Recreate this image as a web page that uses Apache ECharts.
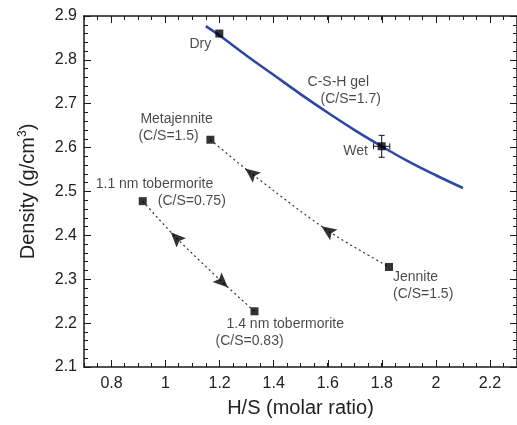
<!DOCTYPE html>
<html>
<head>
<meta charset="utf-8">
<script src="https://cdn.jsdelivr.net/npm/echarts@6/dist/echarts.min.js"></script>
<style>
html, body { margin: 0; padding: 0; background: #fff; }
#main { width: 517px; height: 425px; }
</style>
</head>
<body>
<div id="main"></div>
<script>
// C-S-H gel density curve
var cshX = [1.15, 1.2, 1.3, 1.4, 1.5, 1.6, 1.7, 1.8, 1.9, 2.0, 2.1]
var cshY = [2.877, 2.856, 2.81, 2.766, 2.722, 2.68, 2.64, 2.603, 2.568, 2.537, 2.508]
var cshLabel = ['C-S-H gel', '(C/S=1.7)']
var cshLabelIndex = 5

// measured points
var pointNames = ['Dry', 'Wet', 'Metajennite', 'Jennite', '1.1 nm tobermorite', '1.4 nm tobermorite']
var pointNotes = ['', '', '(C/S=1.5)', '(C/S=1.5)', '(C/S=0.75)', '(C/S=0.83)']
var pointX = [1.2, 1.8, 1.167, 1.827, 0.917, 1.33]
var pointY = [2.86, 2.603, 2.618, 2.328, 2.478, 2.227]

// error bar on the wet point
var wetErrX = 0.03
var wetErrY = 0.025

// dotted transformation paths (inner points carry the arrows)
var tobX = [0.917, 1.04, 1.212, 1.33]
var tobY = [2.478, 2.395, 2.293, 2.227]
var jenX = [1.167, 1.317, 1.60, 1.827]
var jenY = [2.618, 2.542, 2.411, 2.328]
// arrow heads: path, index on path, +1 = points to end, -1 = points to start
var arrowPath = ['tob', 'tob', 'jen', 'jen']
var arrowIdx = [1, 2, 1, 2]
var arrowDir = [-1, 1, -1, -1]

var font = 'Liberation Sans, Arial, Helvetica, sans-serif'
var ink = '#1a1a1a'
var fs = 14

var myChart = echarts.init(document.getElementById('main'))

function pairs(xs, ys) {
    return xs.map(function (x, i) { return [x, ys[i]] })
}

// label placement for each point (offset from the square centre)
var labelStyle = [
    { align: 'center', offset: [-19, 11], pad1: 0, pad2: 0 },
    { align: 'center', offset: [-26, 5], pad1: 0, pad2: 0 },
    { align: 'left', offset: [-72, -12], pad1: 2, pad2: 0 },
    { align: 'left', offset: [4, 19], pad1: 0, pad2: 0 },
    { align: 'left', offset: [-47, -9], pad1: 0, pad2: 62 },
    { align: 'left', offset: [-39, 21], pad1: 11, pad2: 0 }
]

var pointData = pointX.map(function (x, i) {
    var st = labelStyle[i]
    var text = '{a|' + pointNames[i] + '}' + (pointNotes[i] ? '\n{b|' + pointNotes[i] + '}' : '')
    return {
        value: [x, pointY[i]],
        label: {
            show: true,
            position: 'inside',
            offset: st.offset,
            align: st.align,
            verticalAlign: 'middle',
            formatter: text,
            rich: {
                a: { fontSize: fs, fontFamily: font, color: ink, lineHeight: 17, padding: [0, 0, 0, st.pad1] },
                b: { fontSize: fs, fontFamily: font, color: ink, lineHeight: 17, padding: [0, 0, 0, st.pad2] }
            }
        }
    }
})

function xAxisOf(grid, pos, major) {
    var ax = {
        gridIndex: grid,
        type: 'value',
        position: pos,
        min: major ? 0.8 : 0.7,
        max: 2.3,
        interval: major ? 0.2 : 0.1,
        splitLine: { show: false },
        axisLine: { show: !major, onZero: false, lineStyle: { color: ink, width: 1.5 } },
        axisTick: { show: true, inside: true, length: major ? 7 : 4, lineStyle: { color: ink, width: 1 } },
        minorTick: { show: !major, splitNumber: 2, length: 4, lineStyle: { color: ink, width: 1 } },
        axisLabel: { show: false }
    }
    if (major && pos === 'bottom') {
        ax.axisLabel = {
            show: true, fontSize: 16, fontFamily: font, color: '#222', margin: 9,
            showMaxLabel: false,
            formatter: function (v) { return String(+v.toFixed(1)) }
        }
    }
    if (!major && pos === 'bottom') {
        ax.name = 'H/S (molar ratio)'
        ax.nameLocation = 'middle'
        ax.nameGap = 31
        ax.nameTextStyle = { fontSize: 20, fontFamily: font, color: '#222' }
    }
    return ax
}

function yAxisOf(pos) {
    var ax = {
        gridIndex: 0,
        type: 'value',
        position: pos,
        min: 2.1,
        max: 2.9,
        interval: 0.1,
        splitLine: { show: false },
        axisLine: { show: true, onZero: false, lineStyle: { color: ink, width: 1.5 } },
        axisTick: { show: true, inside: true, length: 7, lineStyle: { color: ink, width: 1 } },
        minorTick: { show: true, splitNumber: 5, length: 4, lineStyle: { color: ink, width: 1 } },
        axisLabel: { show: false }
    }
    if (pos === 'left') {
        ax.axisLabel = {
            show: true, fontSize: 16, fontFamily: font, color: '#222', margin: 7,
            formatter: function (v) { return v.toFixed(1) }
        }
        ax.name = 'Density (g/cm{sup|3})'
        ax.nameLocation = 'middle'
        ax.nameGap = 45
        ax.nameTextStyle = {
            fontSize: 20, fontFamily: font, color: '#222',
            rich: { sup: { fontSize: 12, fontFamily: font, color: '#222', verticalAlign: 'top', padding: [0, 0, 10, 0] } }
        }
    }
    return ax
}

var option = {
    animation: false,
    backgroundColor: '#fff',
    grid: [
        { left: 84, top: 16, width: 440, height: 351 },
        { left: 111.5, top: 16, width: 412.5, height: 351 }
    ],
    xAxis: [
        xAxisOf(0, 'bottom', false),
        xAxisOf(0, 'top', false),
        xAxisOf(1, 'bottom', true),
        xAxisOf(1, 'top', true)
    ],
    yAxis: [
        yAxisOf('left'),
        yAxisOf('right'),
        { gridIndex: 1, type: 'value', show: false, min: 2.1, max: 2.9 }
    ],
    series: [
        {
            name: 'C-S-H gel',
            type: 'line',
            xAxisIndex: 0, yAxisIndex: 0,
            data: pairs(cshX, cshY),
            smooth: 0.4,
            showSymbol: false,
            lineStyle: { color: '#2d47a6', width: 2.6 },
            z: 3
        },
        {
            name: 'tobermorite path',
            type: 'line',
            xAxisIndex: 0, yAxisIndex: 0,
            data: pairs(tobX, tobY),
            smooth: 0.3,
            showSymbol: false,
            lineStyle: { color: '#333', width: 1.2, type: [2, 3] },
            z: 2
        },
        {
            name: 'jennite path',
            type: 'line',
            xAxisIndex: 0, yAxisIndex: 0,
            data: pairs(jenX, jenY),
            smooth: 0.3,
            showSymbol: false,
            lineStyle: { color: '#333', width: 1.2, type: [2, 3] },
            z: 2
        },
        {
            name: 'arrows',
            type: 'scatter',
            xAxisIndex: 0, yAxisIndex: 0,
            symbol: 'path://M0,0L7,16L0,13L-7,16Z',
            symbolSize: [13, 15],
            itemStyle: { color: '#000' },
            data: [],
            z: 4
        },
        {
            name: 'error',
            type: 'custom',
            xAxisIndex: 0, yAxisIndex: 0,
            data: [[pointX[1], pointY[1], wetErrX, wetErrY]],
            renderItem: function (params, api) {
                var x = api.value(0), y = api.value(1), ex = api.value(2), ey = api.value(3)
                var l = api.coord([x - ex, y]), r = api.coord([x + ex, y])
                var t = api.coord([x, y + ey]), b = api.coord([x, y - ey])
                var st = { stroke: '#111', lineWidth: 1 }
                var cap = 3
                return {
                    type: 'group',
                    children: [
                        { type: 'line', shape: { x1: l[0], y1: l[1], x2: r[0], y2: r[1] }, style: st },
                        { type: 'line', shape: { x1: t[0], y1: t[1], x2: b[0], y2: b[1] }, style: st },
                        { type: 'line', shape: { x1: l[0], y1: l[1] - cap, x2: l[0], y2: l[1] + cap }, style: st },
                        { type: 'line', shape: { x1: r[0], y1: r[1] - cap, x2: r[0], y2: r[1] + cap }, style: st },
                        { type: 'line', shape: { x1: t[0] - cap, y1: t[1], x2: t[0] + cap, y2: t[1] }, style: st },
                        { type: 'line', shape: { x1: b[0] - cap, y1: b[1], x2: b[0] + cap, y2: b[1] }, style: st }
                    ]
                }
            },
            z: 4
        },
        {
            name: 'points',
            type: 'scatter',
            xAxisIndex: 0, yAxisIndex: 0,
            symbol: 'rect',
            symbolSize: 8,
            itemStyle: { color: '#000' },
            data: pointData,
            z: 5
        },
        {
            name: 'csh label',
            type: 'scatter',
            xAxisIndex: 0, yAxisIndex: 0,
            symbolSize: 1,
            itemStyle: { color: 'rgba(0,0,0,0)' },
            data: [{
                value: [cshX[cshLabelIndex], cshY[cshLabelIndex]],
                label: {
                    show: true,
                    position: 'inside',
                    offset: [-20, -22],
                    align: 'left',
                    verticalAlign: 'middle',
                    formatter: '{a|' + cshLabel[0] + '}\n{b|' + cshLabel[1] + '}',
                    rich: {
                        a: { fontSize: fs, fontFamily: font, color: ink, lineHeight: 17 },
                        b: { fontSize: fs, fontFamily: font, color: ink, lineHeight: 17, padding: [0, 0, 0, 13] }
                    }
                }
            }],
            z: 5
        }
    ]
}

myChart.setOption(option)

// arrow heads follow the local direction of their dotted path
var paths = { tob: { x: tobX, y: tobY, s: 1 }, jen: { x: jenX, y: jenY, s: 2 } }
var arrowData = arrowPath.map(function (p, k) {
    var P = paths[p], i = arrowIdx[k]
    var a = myChart.convertToPixel({ seriesIndex: P.s }, [P.x[i - 1], P.y[i - 1]])
    var b = myChart.convertToPixel({ seriesIndex: P.s }, [P.x[i + 1], P.y[i + 1]])
    var dx = (b[0] - a[0]) * arrowDir[k], dy = (b[1] - a[1]) * arrowDir[k]
    var theta = Math.atan2(-dy, dx) * 180 / Math.PI
    return { value: [P.x[i], P.y[i]], symbolRotate: theta - 90 }
})
myChart.setOption({ series: [{}, {}, {}, { data: arrowData }] })
</script>
</body>
</html>
